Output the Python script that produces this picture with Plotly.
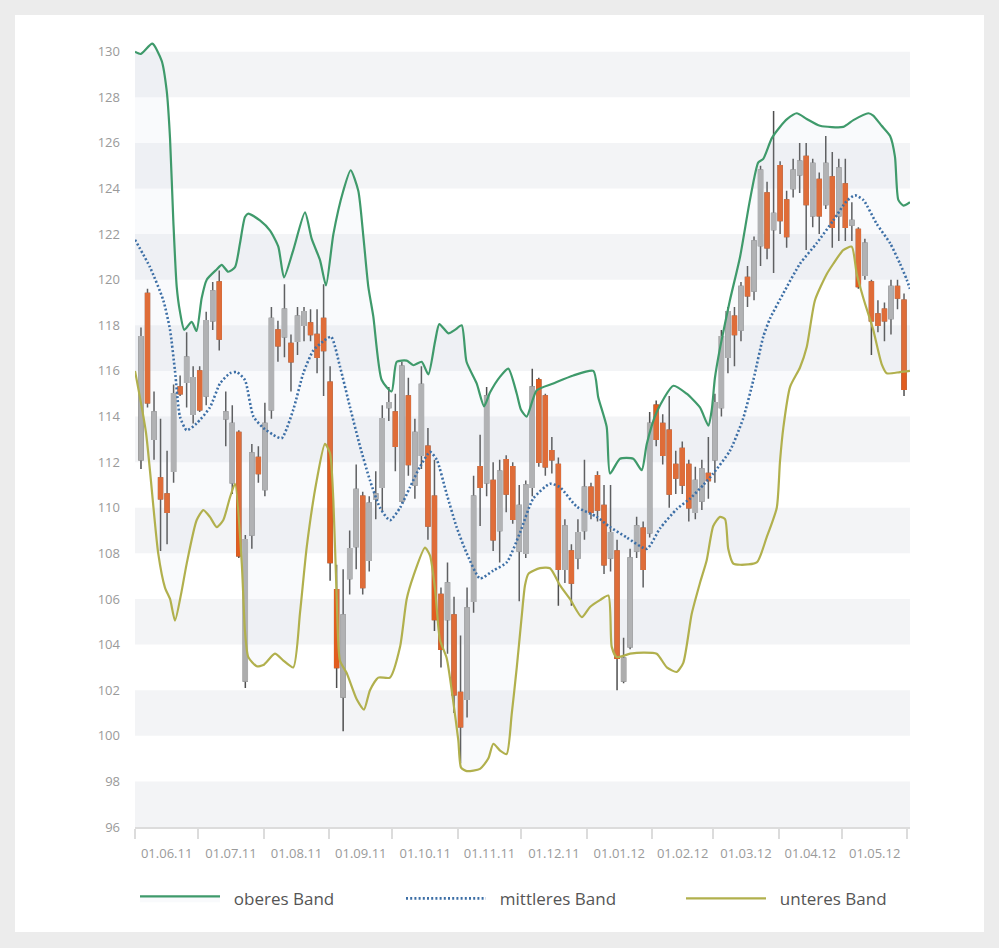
import pandas as pd
import numpy as np
import plotly.graph_objects as go

# ---------------- candle data (OHLC) ----------------
open_ = [112.1, 119.4, 113.0, 111.3, 110.6, 111.6, 115.3, 115.5, 114.1, 116.0,
         114.9, 118.2, 119.9, 113.9, 111.1, 113.3, 102.4, 108.8, 112.2, 110.8,
         114.3, 117.8, 117.5, 117.2, 117.3, 118.0, 118.1, 117.6, 118.3, 115.5,
         106.4, 101.7, 106.9, 108.3, 110.5, 107.7, 110.4, 110.9, 114.4, 114.2,
         110.3, 114.9, 111.0, 112.3, 112.7, 110.5, 106.2, 105.1, 105.3, 101.9,
         101.6, 105.9, 111.8, 111.1, 111.2, 109.0, 112.1, 111.8, 108.1, 108.0,
         110.9, 115.6, 114.9, 112.5, 111.9, 107.3, 108.1, 107.8, 109.0, 110.9,
         111.4, 110.1, 107.8, 108.1, 102.4, 103.9, 108.1, 109.1, 108.9, 114.5,
         113.7, 113.4, 111.9, 112.6, 111.9, 109.8, 110.3, 111.5, 112.1, 114.4,
         116.6, 118.4, 117.8, 120.1, 119.5, 121.5, 123.8, 122.2, 125.0, 123.5,
         124.0, 124.6, 125.4, 122.8, 124.4, 123.3, 124.5, 122.8, 124.2, 122.4,
         122.2, 120.2, 119.9, 118.5, 118.7, 118.3, 119.7, 119.1]
high = [117.9, 119.6, 115.1, 113.9, 112.5, 115.4, 115.8, 117.7, 116.2, 116.2,
        118.6, 119.9, 120.4, 115.1, 114.5, 113.4, 108.8, 112.8, 112.7, 114.6,
        118.8, 118.2, 119.8, 117.6, 118.8, 118.8, 118.7, 118.7, 119.8, 116.2,
        107.5, 107.3, 109.0, 111.9, 110.7, 110.5, 111.6, 114.5, 115.3, 115.0,
        116.4, 115.7, 113.9, 116.2, 113.5, 112.1, 106.5, 107.6, 106.1, 104.4,
        106.5, 111.4, 113.2, 115.3, 112.0, 112.1, 112.3, 112.0, 111.0, 111.2,
        116.1, 115.7, 115.0, 113.1, 112.2, 109.5, 108.4, 109.5, 112.1, 111.1,
        111.6, 111.0, 111.0, 108.6, 104.3, 108.2, 109.6, 109.4, 114.2, 114.7,
        114.1, 114.9, 112.5, 112.9, 112.1, 111.8, 112.1, 113.1, 115.0, 117.8,
        118.8, 118.8, 119.9, 120.6, 121.9, 125.0, 124.3, 127.4, 125.2, 123.9,
        125.3, 126.0, 126.0, 125.3, 124.7, 126.3, 125.6, 125.3, 125.3, 123.4,
        122.3, 121.8, 120.0, 119.1, 119.0, 120.0, 120.0, 119.4]
low = [111.7, 114.4, 112.1, 108.1, 108.4, 111.1, 114.9, 114.4, 113.7, 114.2,
       114.5, 117.8, 116.9, 112.7, 110.6, 107.8, 102.1, 108.2, 111.1, 110.5,
       113.9, 116.4, 116.6, 115.1, 116.7, 117.3, 117.3, 115.9, 114.9, 106.8,
       102.1, 100.2, 106.2, 107.3, 106.2, 107.2, 109.5, 109.8, 113.8, 111.6,
       110.2, 111.4, 110.4, 111.7, 108.6, 104.6, 103.0, 103.6, 101.0, 98.8,
       100.8, 105.4, 109.2, 110.5, 108.1, 107.6, 109.8, 109.3, 105.9, 107.8,
       110.5, 111.8, 111.4, 111.5, 105.7, 106.7, 105.7, 107.3, 108.6, 109.5,
       109.4, 107.1, 107.2, 102.0, 102.3, 103.8, 107.8, 106.5, 108.7, 112.7,
       111.9, 110.0, 110.6, 110.6, 109.4, 109.5, 109.9, 110.4, 111.1, 114.0,
       115.9, 116.2, 117.3, 118.8, 119.1, 120.6, 120.9, 120.3, 122.0, 121.4,
       123.6, 123.8, 121.3, 122.3, 122.0, 123.1, 121.4, 121.7, 121.7, 121.7,
       119.6, 120.0, 116.7, 117.7, 117.3, 117.6, 118.7, 114.9]
close = [117.5, 114.6, 114.2, 110.4, 109.8, 115.0, 115.0, 116.6, 115.7, 114.3,
         118.2, 119.5, 117.4, 114.2, 113.7, 107.9, 108.6, 112.4, 111.5, 113.7,
         118.3, 117.1, 118.7, 116.4, 118.4, 118.6, 117.6, 116.6, 116.9, 107.6,
         103.0, 105.3, 108.2, 110.8, 106.5, 110.2, 110.6, 113.9, 114.6, 112.7,
         116.2, 111.9, 113.3, 115.4, 109.2, 105.1, 103.8, 106.7, 101.8, 100.4,
         105.6, 110.5, 110.9, 114.9, 108.6, 111.6, 110.6, 109.5, 110.1, 111.0,
         115.3, 112.0, 111.8, 112.1, 107.3, 109.2, 106.7, 108.9, 110.9, 109.8,
         109.9, 107.5, 108.9, 103.4, 103.4, 107.8, 109.2, 107.3, 113.7, 113.0,
         112.3, 110.6, 111.3, 111.0, 110.0, 111.2, 111.7, 111.2, 114.6, 117.5,
         118.6, 117.6, 119.7, 119.3, 121.7, 124.8, 121.4, 122.9, 122.6, 121.9,
         124.8, 125.2, 123.3, 125.1, 122.8, 125.1, 122.3, 124.9, 122.3, 122.6,
         119.7, 121.6, 118.2, 118.0, 118.2, 119.7, 119.2, 115.2]

candle_dates = pd.date_range("2011-06-03 20:00", periods=len(open_), freq="4450min")

# ---------------- Bollinger bands (days after 01.06.2011, value) ----------------
upper_day = [0, 2.7, 8.2, 12.65, 15.0, 16.6, 18.15, 19.76, 21.3, 23.36, 26.87, 29.14,
             31.6, 34.0, 38.7, 41.1, 44.2, 47.4, 49.75, 52.1, 53.7, 59.2, 64.0, 67.9,
             70.6, 75.0, 80.55, 83.7, 87.7, 90.5, 94.0, 98.7, 102.2, 105.8, 108.2,
             110.55, 112.9, 116.9, 121.6, 124.0, 128.75, 131.9, 135.85, 139.0, 142.2,
             144.2, 148.5, 151.6, 154.8, 157.1, 161.9, 165.4, 168.2, 173.0, 176.9,
             180.9, 182.9, 185.6, 190.35, 198.2, 207.7, 217.2, 219.5, 223.5, 225.1,
             229.8, 236.1, 240.1, 242.5, 247.2, 255.1, 261.4, 267.7, 271.7, 273.3,
             274.8, 277.2, 281.9, 286.7, 291.4, 295.35, 297.7, 301.7, 305.6, 309.1,
             313.55, 318.3, 324.6, 335.6, 340.4, 347.5, 349.8, 353.8, 357.8, 360.1,
             361.7, 364.1, 367.2]
upper_val = [130.0, 129.9, 130.35, 129.6, 128.3, 126.2, 122.6, 119.7, 118.6, 117.8, 118.15, 117.75,
             119.2, 120.0, 120.45, 120.65, 120.35, 120.55, 121.6, 122.75, 122.9, 122.6, 122.15, 121.45,
             120.1, 121.3, 122.95, 121.8, 120.85, 119.75, 122.0, 123.9, 124.8, 123.9, 121.9,
             119.7, 118.4, 115.6, 115.1, 116.4, 116.45, 116.25, 116.4, 115.85, 117.3,
             118.05, 117.65, 117.8, 118.0, 116.4, 115.45, 114.45, 115.05, 115.75, 116.1,
             115.0, 114.3, 114.0, 115.15, 115.45, 115.8, 116.0, 114.85, 113.55, 111.5,
             112.15, 112.15, 111.65, 112.8, 114.2, 115.35, 115.0, 114.4, 113.6, 114.3,
             115.7, 117.0, 119.1, 121.0, 123.5, 125.15, 125.3, 126.2, 126.7, 127.05,
             127.3, 127.05, 126.75, 126.7, 127.0, 127.3, 127.2, 126.75, 126.3, 125.4,
             123.5, 123.25, 123.4]

mid_day = [0, 7.1, 13.4, 16.6, 18.95, 21.3, 24.5, 29.2, 35.5, 40.3, 45.0, 48.2, 52.1,
           56.1, 60.8, 65.5, 69.5, 75.0, 79.75, 84.5, 89.2, 92.9, 97.1, 101.9, 106.6,
           111.35, 116.1, 120.8, 125.6, 130.3, 135.05, 139.8, 143.0, 147.7, 152.4,
           157.2, 163.5, 169.8, 176.1, 182.4, 188.7, 196.65, 201.4, 209.3, 218.8,
           225.1, 233.0, 242.5, 248.8, 256.8, 263.0, 269.3, 274.0, 281.9, 288.1,
           293.0, 297.7, 300.9, 307.2, 315.1, 323.0, 330.9, 337.2, 341.2, 345.1,
           351.45, 357.8, 362.5, 365.7, 367.2]
mid_val = [121.75, 120.55, 119.1, 117.8, 116.0, 114.0, 113.4, 113.7, 114.4, 115.45, 115.9, 115.95, 115.6,
           114.0, 113.5, 113.2, 113.05, 114.3, 115.9, 116.9, 117.3, 117.5, 116.2, 114.4, 112.7,
           111.2, 110.0, 109.45, 110.0, 110.9, 111.8, 112.45, 112.1, 110.6, 109.15,
           108.0, 106.9, 107.25, 107.6, 108.9, 110.4, 111.05, 110.9, 110.05, 109.6,
           109.15, 108.7, 108.2, 109.1, 109.95, 110.4, 111.0, 111.5, 112.5, 113.9,
           115.6, 117.5, 118.3, 119.4, 120.7, 121.6, 122.6, 123.45, 123.7, 123.5,
           122.45, 121.6, 120.7, 120.0, 119.6]

lower_day = [0, 5.2, 11.0, 14.2, 16.6, 18.95, 21.8, 24.5, 29.2, 32.4, 35.5, 38.7, 41.8,
             45.0, 47.4, 50.6, 52.1, 53.7, 57.7, 60.8, 66.3, 70.3, 75.0, 78.2, 81.4,
             86.1, 90.0, 92.4, 94.0, 95.6, 97.1, 100.3, 105.05, 108.5, 111.35, 115.3,
             120.8, 125.6, 128.75, 131.9, 137.4, 139.8, 142.2, 144.5, 147.7, 150.8,
             153.2, 154.5, 157.2, 163.5, 167.4, 169.8, 173.0, 176.1, 178.5, 180.9,
             183.2, 184.8, 186.4, 191.9, 196.65, 201.4, 206.1, 211.7, 215.6, 220.3,
             224.3, 225.9, 228.25, 234.6, 240.9, 247.2, 252.0, 256.7, 259.8, 263.8,
             267.7, 270.9, 274.0, 277.2, 279.6, 281.1, 283.5, 286.7, 294.6, 299.3,
             304.1, 305.6, 307.2, 310.4, 315.1, 318.3, 322.2, 327.8, 330.9, 335.6,
             339.6, 342.0, 345.1, 349.8, 353.8, 356.2, 362.5, 367.2]
lower_val = [116.0, 113.3, 108.0, 106.5, 106.0, 105.05, 106.2, 107.55, 109.45, 109.9, 109.6, 109.15, 109.45,
             110.45, 111.05, 107.55, 104.6, 103.45, 103.05, 103.1, 103.6, 103.3, 103.0, 105.4, 108.3,
             111.2, 112.8, 112.4, 110.3, 106.0, 103.3, 102.75, 101.6, 101.15, 102.0, 102.55,
             102.55, 103.9, 106.0, 107.0, 108.25, 107.9, 106.4, 104.2, 103.4, 101.5,
             99.8, 98.6, 98.45, 98.55, 99.0, 99.65, 99.35, 99.2, 100.95, 103.0,
             105.2, 106.6, 107.1, 107.35, 107.35, 106.6, 106.0, 105.2, 105.65, 105.95,
             106.15, 103.9, 103.45, 103.6, 103.65, 103.6, 103.0, 102.8, 103.2, 105.35,
             106.7, 107.7, 109.2, 109.6, 109.5, 108.2, 107.55, 107.5, 107.6, 108.7,
             110.0, 112.0, 113.5, 115.3, 116.15, 117.05, 119.1, 120.25, 120.7, 121.3,
             121.45, 120.25, 119.2, 117.8, 116.3, 115.9, 115.95, 116.0]

# ---------------- axis ticks ----------------
x_range = ["2011-06-01", "2012-06-02 05:30"]
x_tick_format = "01.%m.%y"          # monthly labels: 01.06.11, 01.07.11, ...
y_tickvals = [96, 98, 100, 102, 104, 106, 108, 110, 112, 114, 116, 118, 120,
              122, 124, 126, 128, 130]

base = pd.Timestamp("2011-06-01")
def to_dates(days):
    return [base + pd.Timedelta(days=d) for d in days]

GREEN = "#3f9a6b"
BLUE = "#3d6fa6"
OLIVE = "#b1b04d"
ORANGE = "#e25d1f"
GREY = "#adadad"
WICK = "#4f4f4f"
NB = "\u00a0\u00a0"

o = np.array(open_); c = np.array(close)
body_hi = np.maximum(o, c)
body_lo = np.minimum(o, c)

fig = go.Figure()

# wicks (dark)
fig.add_trace(go.Candlestick(
    x=candle_dates, open=open_, high=high, low=low, close=close,
    increasing=dict(line=dict(color=WICK, width=1.5), fillcolor=WICK),
    decreasing=dict(line=dict(color=WICK, width=1.5), fillcolor=WICK),
    showlegend=False, hoverinfo="skip", whiskerwidth=0))
# bodies
fig.add_trace(go.Candlestick(
    x=candle_dates, open=open_, high=body_hi, low=body_lo, close=close,
    increasing=dict(line=dict(color=GREY, width=1.5), fillcolor=GREY),
    decreasing=dict(line=dict(color=ORANGE, width=1.5), fillcolor=ORANGE),
    showlegend=False, whiskerwidth=0))

fig.add_trace(go.Scatter(
    x=to_dates(lower_day), y=lower_val, mode="lines", name=NB + "unteres Band",
    line=dict(color=OLIVE, width=2.2, shape="spline", smoothing=0.6), legend="legend3"))
fig.add_trace(go.Scatter(
    x=to_dates(upper_day), y=upper_val, mode="lines", name=NB + "oberes Band",
    line=dict(color=GREEN, width=2.2, shape="spline", smoothing=0.6),
    fill="tonexty", fillcolor="rgba(205,218,235,0.13)", legend="legend"))
fig.add_trace(go.Scatter(
    x=to_dates(mid_day), y=mid_val, mode="lines", name=NB + "mittleres Band",
    line=dict(color=BLUE, width=2.6, dash="2px,2.2px", shape="spline", smoothing=0.6),
    legend="legend2"))

shapes = [dict(type="rect", xref="paper", yref="paper",
               x0=(15 - 135) / 775, x1=(984 - 135) / 775,
               y0=-(932 - 827) / 789, y1=(827 - 15) / 789,
               fillcolor="white", line=dict(width=0), layer="below")]
for lo_, hi_ in zip(y_tickvals[0::2], y_tickvals[1::2]):
    shapes.append(dict(type="rect", xref="paper", yref="y", x0=0, x1=1, y0=lo_, y1=hi_,
                       fillcolor="#f3f4f6", line=dict(width=0), layer="below"))

def leg(xpos):
    return dict(orientation="h", x=xpos, xanchor="left", y=-0.091, yanchor="middle",
                font=dict(size=17, color="#555555"), itemwidth=80,
                bgcolor="rgba(0,0,0,0)")

fig.update_layout(
    width=999, height=948,
    margin=dict(l=135, r=89, t=38, b=121),
    paper_bgcolor="#ececec", plot_bgcolor="rgba(0,0,0,0)",
    font=dict(family="Open Sans, sans-serif", color="#999999"),
    shapes=shapes, boxgap=0.15,
    showlegend=True,
    legend=leg(0.0), legend2=leg((406 - 140) / 775), legend3=leg((686 - 140) / 775),
    xaxis=dict(type="date", range=x_range,
               tick0="2011-06-01", dtick="M1", tickformat=x_tick_format,
               ticklabelmode="period",
               ticks="outside", ticklen=10, tickcolor="#dcdcdc", tickwidth=1.5,
               showline=True, linecolor="#dcdcdc", linewidth=1.5,
               showgrid=False, zeroline=False, rangeslider=dict(visible=False),
               tickfont=dict(size=13, color="#9a9a9a"), ticklabelstandoff=4),
    yaxis=dict(range=[96, 130.6], tickvals=y_tickvals, showgrid=False, zeroline=False,
               ticks="", showline=False, tickfont=dict(size=13, color="#9a9a9a"),
               ticklabelstandoff=14),
)

fig.write_html("out.html", config={"displayModeBar": False},
               post_script="document.body.style.margin='0';")
